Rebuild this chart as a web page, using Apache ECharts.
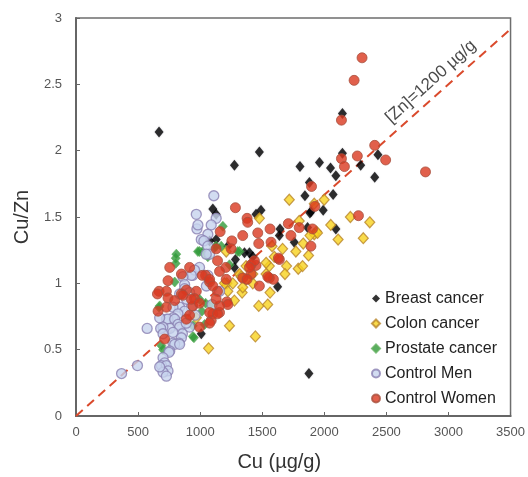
<!DOCTYPE html>
<html style="height: 100%">
<head>
<meta charset="utf-8">
<script src="https://cdn.jsdelivr.net/npm/echarts@6/dist/echarts.min.js"></script>
</head>
<body style="height: 100%; margin: 0; background: #fff">
<div id="container" style="width: 528px; height: 477px"></div>
<script>
// values: [Cu (ug/g), Cu/Zn]
var breastCancer = [
  [669, 2.14], [1477, 1.99], [1276, 1.89], [2146, 2.28], [2146, 1.98], [2432, 1.97],
  [2293, 1.89], [1804, 1.88], [1961, 1.91], [2050, 1.87], [2093, 1.81], [2406, 1.80],
  [1880, 1.76], [1844, 1.66], [2071, 1.67], [1102, 1.56], [1129, 1.52], [1490, 1.55],
  [1450, 1.52], [1892, 1.54], [1991, 1.55], [1884, 1.53], [1643, 1.41], [2093, 1.41],
  [1865, 1.42], [1638, 1.36], [1758, 1.31], [1624, 0.975], [1397, 1.23], [1357, 1.23],
  [1424, 1.20], [1284, 1.18], [1276, 1.12], [1223, 1.28], [1076, 1.32], [1129, 1.33],
  [1009, 0.62], [1876, 0.32]
];
var colonCancer = [
  [1718, 1.63], [1919, 1.60], [1999, 1.63], [2210, 1.50], [2366, 1.46], [2314, 1.34],
  [2052, 1.44], [1937, 1.39], [2111, 1.33], [1477, 1.49], [1798, 1.47], [1919, 1.37],
  [1830, 1.30], [1873, 1.21], [1771, 1.24], [1664, 1.26], [1579, 1.28], [1597, 1.20],
  [1696, 1.13], [1790, 1.11], [1825, 1.13], [1683, 1.07], [1557, 1.13], [1531, 1.07],
  [1563, 0.93], [1338, 0.93], [1424, 1.00], [1317, 1.07], [1215, 1.00], [1531, 1.155],
  [1210, 1.24], [1276, 0.87], [1472, 0.83], [1236, 0.68], [1445, 0.60], [1068, 0.51],
  [1343, 0.97], [1544, 0.84], [969, 0.74], [1223, 0.94], [1424, 1.07], [1370, 1.03],
  [1263, 1.00], [1945, 1.38], [1885, 1.36], [1330, 1.05], [1196, 1.00], [1370, 1.13]
];
var prostateCancer = [
  [1183, 1.43], [1317, 1.24], [995, 1.24], [1129, 1.28], [803, 1.19], [803, 1.15],
  [674, 0.83], [1044, 0.85], [941, 0.60], [701, 0.50], [669, 0.82], [1020, 1.24],
  [1014, 0.79], [950, 0.59], [1089, 0.84], [1036, 0.69], [808, 1.22], [795, 1.01],
  [982, 1.24], [995, 0.88], [941, 0.68], [688, 0.53], [1236, 1.14], [1170, 1.28],
  [1116, 1.27], [1303, 1.24], [1062, 1.20]
];
var controlMen = [
  [1110, 1.66], [1129, 1.49], [1089, 1.44], [969, 1.52], [974, 1.41], [982, 1.44],
  [1062, 1.37], [1009, 1.33], [1030, 1.32], [1062, 1.28], [1076, 1.22], [1049, 1.22],
  [941, 1.06], [1062, 1.06], [995, 1.12], [955, 1.10], [929, 1.06], [861, 1.05],
  [875, 0.99], [875, 0.96], [915, 0.93], [835, 0.92], [1156, 0.94], [1096, 0.84],
  [929, 0.82], [835, 0.82], [781, 0.82], [875, 0.79], [821, 0.77], [781, 0.74],
  [728, 0.73], [741, 0.73], [795, 0.73], [674, 0.74], [821, 0.69], [835, 0.67],
  [755, 0.66], [915, 0.67], [700, 0.67], [573, 0.66], [682, 0.66], [857, 0.62],
  [781, 0.63], [701, 0.62], [849, 0.59], [829, 0.55], [781, 0.55], [795, 0.54],
  [835, 0.54], [755, 0.49], [749, 0.48], [701, 0.44], [714, 0.40], [688, 0.38],
  [728, 0.38], [741, 0.34], [701, 0.33], [674, 0.37], [728, 0.30], [495, 0.38],
  [367, 0.32], [888, 0.70], [960, 0.76], [1050, 0.98], [890, 0.88]
];
var controlWomen = [
  [2304, 2.70], [2240, 2.53], [2138, 2.23], [2138, 1.94], [2266, 1.96], [2406, 2.04],
  [2494, 1.93], [2815, 1.84], [2162, 1.88], [1897, 1.73], [1284, 1.57], [2275, 1.51],
  [1924, 1.58], [1563, 1.41], [1710, 1.45], [1798, 1.42], [1905, 1.41], [1731, 1.36],
  [1892, 1.28], [1638, 1.18], [1557, 1.04], [1590, 1.03], [1477, 0.98], [1410, 1.07],
  [1343, 1.04], [1378, 1.03], [1450, 1.135], [1410, 1.14], [1571, 1.31], [1464, 1.38],
  [1343, 1.36], [1255, 1.32], [1250, 1.26], [1472, 1.30], [1378, 1.49], [1383, 1.46],
  [1161, 1.39], [1437, 1.17], [1397, 1.12], [1215, 0.86], [1223, 0.84], [1156, 0.78],
  [1102, 0.77], [1089, 0.72], [1044, 1.06], [1076, 1.01], [1140, 0.94], [1156, 0.83],
  [1076, 0.70], [755, 1.12], [849, 1.07], [915, 1.12], [1017, 1.06], [1076, 1.03],
  [741, 1.02], [669, 0.94], [728, 0.94], [741, 0.89], [795, 0.87], [889, 0.95],
  [969, 0.94], [849, 0.92], [955, 0.885], [941, 0.83], [1076, 0.78], [889, 0.73],
  [995, 0.67], [714, 0.58], [656, 0.92], [661, 0.79], [728, 0.82], [861, 0.91],
  [929, 0.88], [995, 0.85], [915, 0.76], [1102, 0.98], [1129, 0.88], [1140, 0.77],
  [1207, 1.12], [1140, 1.17], [1545, 1.05], [1630, 1.19], [1156, 1.09], [1210, 1.03],
  [1129, 1.26]
];
var zincLevel = 1200;          // [Zn] = 1200 ug/g reference line
var xMax = 3500;
var lineLabelAt = [2858, 2.52];

var chart = echarts.init(document.getElementById('container'));
var font = 'Liberation Sans, Arial, Helvetica, sans-serif';

var option = {
  animation: false,
  backgroundColor: '#fff',
  textStyle: { fontFamily: font },
  grid: {
    left: 76, top: 18, right: 16, bottom: 60,
    show: true, borderColor: '#6e6e6e', borderWidth: 1.5
  },
  legend: {
    orient: 'vertical',
    left: 366, top: 284,
    itemWidth: 8, itemHeight: 8, itemGap: 6,
    data: ['Breast cancer', 'Colon cancer', 'Prostate cancer', 'Control Men', 'Control Women'],
    textStyle: { fontSize: 16, color: '#222', lineHeight: 19, fontFamily: font }
  },
  xAxis: {
    type: 'value', min: 0, max: xMax, interval: 500,
    name: 'Cu (µg/g)', nameLocation: 'middle', nameGap: 36,
    nameTextStyle: { fontSize: 20, color: '#333', padding: [0, 28, 0, 0] },
    axisLine: { lineStyle: { color: '#666', width: 2 } },
    axisTick: { inside: true, length: 4, lineStyle: { color: '#666' } },
    axisLabel: { fontSize: 13, color: '#555', margin: 10, formatter: function (v) { return String(v); } },
    splitLine: { show: false }
  },
  yAxis: {
    type: 'value', min: 0, max: 3, interval: 0.5,
    name: 'Cu/Zn', nameLocation: 'middle', nameGap: 44,
    nameTextStyle: { fontSize: 20, color: '#333' },
    axisLine: { show: true, lineStyle: { color: '#666', width: 2 } },
    axisTick: { show: true, inside: true, length: 4, lineStyle: { color: '#666' } },
    axisLabel: { fontSize: 13, color: '#555', margin: 14 },
    splitLine: { show: false }
  },
  series: [
    {
      type: 'line', silent: true, symbol: 'none', z: 1,
      data: [[0, 0], [xMax, xMax / zincLevel]],
      lineStyle: { color: '#da4a2c', width: 2, type: [9, 6] }
    },
    {
      type: 'scatter', silent: true, symbolSize: 0, z: 1,
      data: [lineLabelAt],
      label: {
        show: true, position: 'inside', rotate: 42,
        formatter: '[Zn]=' + zincLevel + ' µg/g',
        fontSize: 17, color: '#1a1a1a', fontFamily: font
      }
    },
    {
      name: 'Breast cancer', type: 'scatter', symbol: 'diamond', symbolSize: [9, 11],
      data: breastCancer,
      itemStyle: { color: '#000', shadowBlur: 2, shadowColor: 'rgba(40,40,80,0.25)' }
    },
    {
      name: 'Colon cancer', type: 'scatter', symbol: 'diamond', symbolSize: [10, 11],
      data: colonCancer,
      itemStyle: { color: '#f7d21e', borderColor: '#b9862c', borderWidth: 1.2 }
    },
    {
      name: 'Prostate cancer', type: 'scatter', symbol: 'diamond', symbolSize: [9, 10],
      data: prostateCancer,
      itemStyle: { color: '#2f9a3a', borderColor: '#5cae5a', borderWidth: 0.8 }
    },
    {
      name: 'Control Men', type: 'scatter', symbol: 'circle', symbolSize: 10,
      data: controlMen,
      itemStyle: { color: '#c7d3ee', borderColor: '#8a80b2', borderWidth: 1.3 }
    },
    {
      name: 'Control Women', type: 'scatter', symbol: 'circle', symbolSize: 10,
      data: controlWomen,
      itemStyle: { color: '#d9381f', borderColor: '#a8503e', borderWidth: 1 }
    }
  ]
};

chart.setOption(option);
</script>
</body>
</html>
